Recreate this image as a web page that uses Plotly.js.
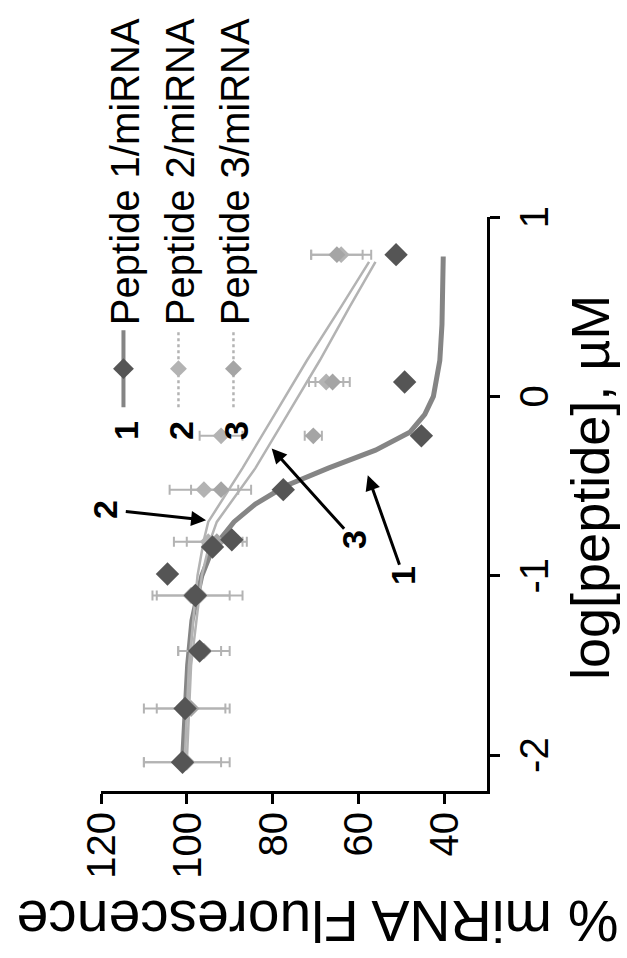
<!DOCTYPE html>
<html><head><meta charset="utf-8">
<script src="https://cdn.plot.ly/plotly-3.0.1.min.js"></script>
<style>
html,body{margin:0;padding:0;width:627px;height:958px;overflow:hidden;background:#fff;}
#chart{position:absolute;left:0;top:0;width:958px;height:627px;transform-origin:0 0;transform:translate(0px,958px) rotate(-90deg);}
</style></head><body><div id="chart"></div>
<script>
// ---- data (log[peptide] in µM, % miRNA fluorescence) ----
const seriesNames = ['Peptide 1/miRNA', 'Peptide 2/miRNA', 'Peptide 3/miRNA'];
const seriesTags = ['1', '2', '3'];

const logConc1 = [-2.04, -1.74, -1.42, -1.11, -0.99, -0.84, -0.80, -0.52, -0.22, 0.08, 0.79];
const fluor1   = [101, 100.4, 97, 98, 104.5, 94, 89.5, 77.5, 45.3, 49.2, 51.2];

const logConc23 = [-2.04, -1.74, -1.42, -1.11, -0.81, -0.52, -0.22, 0.08, 0.79];
const fluor2    = [100, 100, 96, 97, 95, 96, 92, 67.5, 64];
const err2      = [10, 10, 6, 10, 8, 8, 5, 4, 7];
const fluor3    = [101, 99, 97, 99, 93, 92, 70.5, 66, 65];
const err3      = [9, 8, 5, 9, 7, 7, 2, 4, 6];

// fitted curves
const fitX1 = [-2.04, -1.75, -1.5, -1.25, -1.0, -0.85, -0.7, -0.6, -0.5, -0.4, -0.3, -0.2, -0.1, 0, 0.2, 0.4, 0.6, 0.78];
const fitY1 = [101, 100.5, 99.8, 98.8, 96.5, 94, 89, 84, 77, 67, 56, 48, 44.5, 42.5, 41, 40.5, 40.3, 40.2];
const fitX2 = [-2.04, -1.5, -1.0, -0.8, -0.7, -0.4, -0.1, 0.2, 0.5, 0.75];
const fitY2 = [100.5, 99.5, 97.5, 96, 95, 87, 79.5, 72, 64, 57.5];
const fitX3 = [-2.04, -1.5, -1.0, -0.8, -0.7, -0.4, -0.1, 0.2, 0.5, 0.75];
const fitY3 = [100, 99, 96.5, 94.5, 93, 84, 76.5, 69, 62, 56];

const xTickVals = [-2, -1, 0, 1];
const xTickText = ['-2', '-1', '0', '1'];
const yTickVals = [40, 60, 80, 100, 120];
const yTickText = ['40', '60', '80', '100', '120'];

// ---- styles ----
const dark = '#555555', mid = '#858585', light = '#b3b3b3';
const FONT = 'Liberation Sans, Arial, sans-serif';

const traces = [
  {x: fitX1, y: fitY1, mode: 'lines', line: {color: mid, width: 5}, showlegend: false, hoverinfo: 'skip'},
  {x: fitX2, y: fitY2, mode: 'lines', line: {color: light, width: 2.5}, showlegend: false, hoverinfo: 'skip'},
  {x: fitX3, y: fitY3, mode: 'lines', line: {color: light, width: 2.5}, showlegend: false, hoverinfo: 'skip'},
  {x: logConc23, y: fluor2, mode: 'markers', marker: {symbol: 'diamond', size: 13, color: light},
   error_y: {type: 'data', array: err2, color: light, thickness: 2, width: 5}, showlegend: false},
  {x: logConc23, y: fluor3, mode: 'markers', marker: {symbol: 'diamond', size: 13, color: '#a5a5a5'},
   error_y: {type: 'data', array: err3, color: light, thickness: 2, width: 5}, showlegend: false},
  {x: logConc1, y: fluor1, mode: 'markers', marker: {symbol: 'diamond', size: 18, color: dark}, showlegend: false},
  // legend entries
  {x: [null], y: [null], name: seriesNames[0], mode: 'lines+markers', line: {color: mid, width: 4}, marker: {symbol: 'diamond', size: 17, color: dark}},
  {x: [null], y: [null], name: seriesNames[1], mode: 'lines+markers', line: {color: light, width: 2.5, dash: 'dot'}, marker: {symbol: 'diamond', size: 13, color: light}},
  {x: [null], y: [null], name: seriesNames[2], mode: 'lines+markers', line: {color: light, width: 2.5, dash: 'dot'}, marker: {symbol: 'diamond', size: 13, color: '#a5a5a5'}}
];

const annotations = [
  // axis titles
  {xref: 'paper', yref: 'paper', x: 0.529, y: -0.268, text: 'log[peptide], µM', showarrow: false,
   font: {family: FONT, size: 54, color: '#000'}, xanchor: 'center', yanchor: 'middle'},
  {xref: 'paper', yref: 'paper', x: -0.226, y: 0.44, text: '% miRNA Fluorescence', showarrow: false, textangle: -90,
   font: {family: FONT, size: 57, color: '#000'}, xanchor: 'center', yanchor: 'middle'},
  // arrows to curves
  {xref: 'x', yref: 'y', axref: 'x', ayref: 'y', x: -0.69, y: 95.5, ax: -0.63, ay: 119, text: '<b>2</b>',
   showarrow: true, arrowhead: 2, arrowsize: 1, arrowwidth: 3, arrowcolor: '#000', font: {family: FONT, size: 34, color: '#000'}},
  {xref: 'x', yref: 'y', axref: 'x', ayref: 'y', x: -0.29, y: 80.2, ax: -0.80, ay: 61, text: '<b>3</b>',
   showarrow: true, arrowhead: 2, arrowsize: 1, arrowwidth: 3, arrowcolor: '#000', font: {family: FONT, size: 34, color: '#000'}},
  {xref: 'x', yref: 'y', axref: 'x', ayref: 'y', x: -0.44, y: 57.8, ax: -1.0, ay: 49.5, text: '<b>1</b>',
   showarrow: true, arrowhead: 2, arrowsize: 1, arrowwidth: 3, arrowcolor: '#000', font: {family: FONT, size: 34, color: '#000'}}
];
// bold series tags before the legend symbols
const legendRowsY = [0.935, 0.793, 0.65];
seriesTags.forEach((t, i) => annotations.push({xref: 'paper', yref: 'paper', x: 0.628, y: legendRowsY[i], text: '<b>' + t + '</b>',
  showarrow: false, font: {family: FONT, size: 34, color: '#000'}, xanchor: 'center', yanchor: 'middle'}));

const axisCommon = {showgrid: false, zeroline: false, showline: true, linewidth: 3, linecolor: '#000',
  ticks: 'outside', ticklen: 10, tickwidth: 3, tickcolor: '#000', tickfont: {family: FONT, size: 40, color: '#000'}, tickmode: 'array'};

const layout = {
  width: 958, height: 627,
  margin: {l: 167, r: 213, t: 101, b: 140},
  paper_bgcolor: '#fff', plot_bgcolor: '#fff',
  font: {family: FONT, color: '#000'},
  xaxis: Object.assign({}, axisCommon, {range: [-2.2, 1], tickvals: xTickVals, ticktext: xTickText}),
  yaxis: Object.assign({}, axisCommon, {range: [30, 120], tickvals: yTickVals, ticktext: yTickText}),
  legend: {x: 0.66, y: 1.026, xanchor: 'left', yanchor: 'top', bgcolor: 'rgba(0,0,0,0)', itemwidth: 77,
    font: {family: FONT, size: 40, color: '#000'}},
  annotations: annotations,
  showlegend: true
};

Plotly.newPlot('chart', traces, layout, {displayModeBar: false, staticPlot: true});
</script></body></html>
